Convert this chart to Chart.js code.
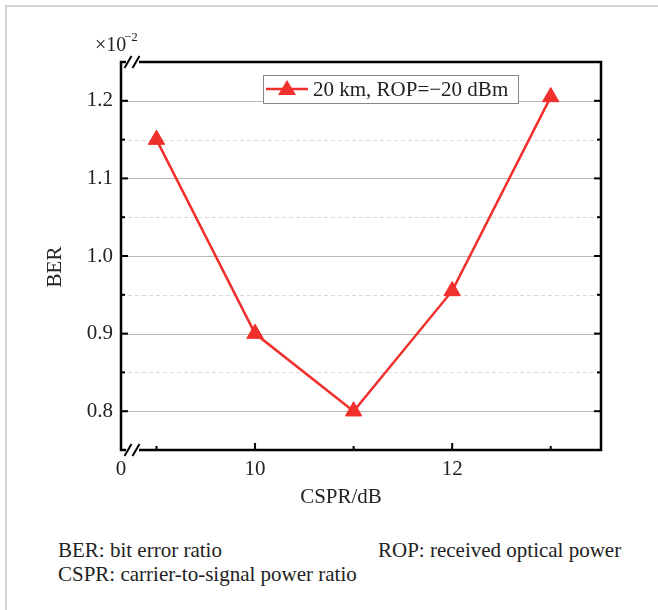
<!DOCTYPE html>
<html>
<head>
<meta charset="utf-8">
<script src="https://cdn.jsdelivr.net/npm/chart.js@4"></script>
<style>
  body { margin: 0; background: #fff; }
  #wrap { position: relative; width: 658px; height: 610px; overflow: hidden; }
  #frame { position: absolute; left: 5px; top: 5px; width: 700px; height: 700px;
           border-top: 2px solid #d4d4d4; border-left: 2px solid #d4d4d4; }
  canvas { position: absolute; left: 0; top: 0; }
  .note { position: absolute; font-family: "Liberation Serif", "Times New Roman", serif; font-size: 21px; line-height: 24px; color: #222; white-space: nowrap; }
</style>
</head>
<body>
<div id="wrap">
  <div id="frame"></div>
  <canvas id="chart" width="658" height="530"></canvas>
  <div class="note" style="left:58px; top:538px;">BER: bit error ratio</div>
  <div class="note" style="left:378px; top:538px;">ROP: received optical power</div>
  <div class="note" style="left:58px; top:562px;">CSPR: carrier-to-signal power ratio</div>
</div>
<script>
// data (BER values in units of 1e-2)
const cspr = [9, 10, 11, 12, 13];
const ber = [1.15, 0.90, 0.80, 0.955, 1.205];
const seriesLabel = "20 km, ROP=\u221220 dBm";

const xMin = 8.64, xMax = 13.51;
const xMajor = [10, 12];
const xMinor = [9, 11, 13];
const yMin = 0.75, yMax = 1.25;
const yMajor = [0.8, 0.9, 1.0, 1.1, 1.2];
const yMinor = [0.85, 0.95, 1.05, 1.15];

const red = "#f0302c";
const font = "'Liberation Serif', 'Times New Roman', serif";

const decor = {
  id: "decor",
  beforeDatasetsDraw(chart) {
    const { ctx, chartArea: a, scales: { y } } = chart;
    ctx.save();
    ctx.lineWidth = 1;
    ctx.strokeStyle = "#d9d9d9";
    ctx.setLineDash([4, 3]);
    yMinor.forEach(v => {
      const py = Math.round(y.getPixelForValue(v)) + 0.5;
      ctx.beginPath(); ctx.moveTo(a.left, py); ctx.lineTo(a.right, py); ctx.stroke();
    });
    ctx.setLineDash([]);
    ctx.strokeStyle = "#b8b8b8";
    yMajor.forEach(v => {
      const py = Math.round(y.getPixelForValue(v)) + 0.5;
      ctx.beginPath(); ctx.moveTo(a.left, py); ctx.lineTo(a.right, py); ctx.stroke();
    });
    ctx.restore();
  },
  afterDraw(chart) {
    const { ctx, chartArea: a, scales: { x, y } } = chart;
    ctx.save();
    // frame
    ctx.strokeStyle = "#000";
    ctx.lineWidth = 2.5;
    ctx.strokeRect(a.left, a.top, a.right - a.left, a.bottom - a.top);
    // inward ticks
    ctx.lineWidth = 2;
    const tick = (x1, y1, x2, y2) => { ctx.beginPath(); ctx.moveTo(x1, y1); ctx.lineTo(x2, y2); ctx.stroke(); };
    yMajor.forEach(v => {
      const py = y.getPixelForValue(v);
      tick(a.left, py, a.left + 7, py);
      tick(a.right, py, a.right - 7, py);
    });
    yMinor.forEach(v => {
      const py = y.getPixelForValue(v);
      tick(a.left, py, a.left + 4, py);
      tick(a.right, py, a.right - 4, py);
    });
    xMajor.forEach(v => { const px = x.getPixelForValue(v); tick(px, a.bottom, px, a.bottom - 7); });
    xMinor.forEach(v => { const px = x.getPixelForValue(v); tick(px, a.bottom, px, a.bottom - 4); });
    // axis breaks
    [a.top, a.bottom].forEach(py => {
      ctx.fillStyle = "#fff";
      ctx.fillRect(a.left + 5, py - 2.5, 13, 5);
      ctx.lineWidth = 2;
      [a.left + 7, a.left + 15].forEach(px => tick(px - 3.5, py + 6, px + 3.5, py - 6));
    });
    // legend
    const lx = a.left + 142, ly = 75, lw = 255, lh = 28;
    ctx.fillStyle = "#fff";
    ctx.fillRect(lx, ly, lw, lh);
    ctx.lineWidth = 1;
    ctx.strokeStyle = "#888";
    ctx.strokeRect(lx + 0.5, ly + 0.5, lw, lh);
    ctx.strokeStyle = red;
    ctx.lineWidth = 2.5;
    tick(lx + 3, ly + 14, lx + 45, ly + 14);
    ctx.fillStyle = red;
    ctx.beginPath();
    ctx.moveTo(lx + 24, ly + 5);
    ctx.lineTo(lx + 33, ly + 20);
    ctx.lineTo(lx + 15, ly + 20);
    ctx.closePath(); ctx.fill();
    ctx.fillStyle = "#222";
    ctx.font = `21px ${font}`;
    ctx.textBaseline = "middle";
    ctx.textAlign = "left";
    ctx.fillText(chart.data.datasets[0].label, lx + 50, ly + 15);
    // axis titles
    ctx.textAlign = "center";
    ctx.fillText("CSPR/dB", (a.left + a.right) / 2 - 20, 497);
    ctx.save();
    ctx.translate(55, (a.top + a.bottom) / 2 + 11);
    ctx.rotate(-Math.PI / 2);
    ctx.fillText("BER", 0, 0);
    ctx.restore();
    // exponent
    ctx.textAlign = "left";
    ctx.font = `20px ${font}`;
    ctx.fillText("\u00d710", 95, 46);
    ctx.font = `13px ${font}`;
    ctx.fillText("\u22122", 124, 38);
    ctx.restore();
  }
};

new Chart(document.getElementById("chart"), {
  type: "line",
  data: {
    datasets: [{
      label: seriesLabel,
      data: cspr.map((c, i) => ({ x: c, y: ber[i] })),
      borderColor: red,
      backgroundColor: red,
      borderWidth: 2.5,
      pointStyle: "triangle",
      pointRadius: 9.5,
      pointBackgroundColor: red,
      pointBorderColor: red,
      pointBorderWidth: 1,
      tension: 0,
      clip: false
    }]
  },
  options: {
    responsive: false,
    animation: false,
    layout: { padding: { left: 0, right: 57, top: 62, bottom: 0 } },
    plugins: { legend: { display: false }, tooltip: { enabled: false } },
    scales: {
      x: {
        type: "linear",
        min: xMin, max: xMax,
        afterBuildTicks: s => { s.ticks = [xMin, ...xMajor].map(v => ({ value: v })); },
        afterFit: s => { s.height = 80; },
        grid: { display: false, drawTicks: false },
        border: { display: false },
        ticks: {
          padding: 7,
          autoSkip: false, maxRotation: 0,
          color: "#222",
          font: { family: font, size: 21 },
          callback: v => (v === xMin ? "0" : String(v))
        }
      },
      y: {
        min: yMin, max: yMax,
        afterBuildTicks: s => { s.ticks = yMajor.map(v => ({ value: v })); },
        afterFit: s => { s.width = 121; },
        grid: { display: false, drawTicks: false },
        border: { display: false },
        ticks: {
          padding: 8,
          color: "#222",
          font: { family: font, size: 21 },
          callback: v => v.toFixed(1)
        }
      }
    }
  },
  plugins: [decor]
});
</script>
</body>
</html>
